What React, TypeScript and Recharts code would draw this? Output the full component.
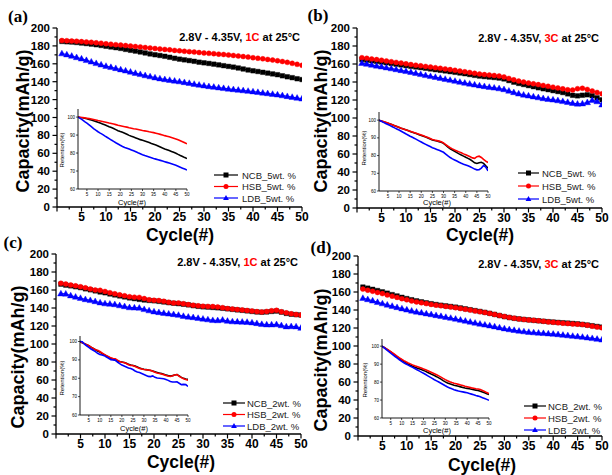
import React from 'react';
import { LineChart, Line, XAxis, YAxis } from 'recharts';

const cycles = [1,2,3,4,5,6,7,8,9,10,11,12,13,14,15,16,17,18,19,20,21,22,23,24,25,26,27,28,29,30,31,32,33,34,35,36,37,38,39,40,41,42,43,44,45,46,47,48,49,50];

// Panel (a) 5wt.% 1C
const ncbA = [185.0,184.6,184.3,183.8,183.2,182.6,182.0,181.3,180.5,179.6,178.8,178.0,177.2,176.1,175.1,174.2,173.2,172.1,171.0,170.1,169.3,168.4,167.3,166.2,165.2,164.4,163.6,162.8,161.8,161.1,160.4,159.6,158.8,157.9,157.1,156.3,155.3,154.2,153.1,152.2,151.4,150.5,149.6,148.7,147.8,146.6,145.5,144.5,143.3,142.4];
const hsbA = [186.0,185.8,185.5,185.2,184.8,184.4,184.0,183.5,183.0,182.4,181.9,181.4,180.9,180.4,179.8,179.3,178.8,178.2,177.6,177.1,176.6,176.1,175.6,175.0,174.5,174.0,173.6,173.1,172.6,172.1,171.7,171.3,170.8,170.4,169.9,169.3,168.7,168.1,167.5,166.8,166.2,165.6,164.9,164.2,163.4,162.6,161.6,160.5,159.4,158.3];
const ldbA = [171.5,170.3,168.8,167.2,165.7,164.0,162.3,160.6,159.0,157.5,156.2,155.0,153.6,152.3,151.0,149.6,148.3,147.0,145.8,144.6,143.5,142.6,141.8,141.0,140.2,139.3,138.4,137.4,136.5,135.6,134.8,134.1,133.4,132.7,132.0,131.4,130.8,130.2,129.6,129.0,128.3,127.6,126.9,126.2,125.5,124.6,123.7,122.8,121.9,121.0];

// Panel (b) 5wt.% 3C
const ncbB = [165.0,164.3,163.6,162.9,162.2,161.4,160.6,159.8,159.0,158.2,157.4,156.7,156.0,155.3,154.5,153.7,153.0,152.3,151.5,150.8,150.0,149.2,148.3,147.4,146.6,146.0,145.5,145.0,144.4,143.4,141.6,139.8,138.4,137.2,136.0,134.8,133.6,132.5,131.5,130.4,129.4,128.3,126.8,125.2,124.6,125.3,125.8,124.8,122.4,120.2];
const hsbB = [167.0,166.3,165.6,164.9,164.2,163.4,162.6,161.8,161.0,160.2,159.4,158.7,158.0,157.3,156.6,155.9,155.2,154.5,153.8,153.0,152.2,151.4,150.6,149.7,148.8,148.2,147.7,147.2,146.6,145.6,144.0,142.4,141.0,139.9,138.9,138.0,137.1,136.2,135.2,134.3,133.4,132.4,131.4,131.0,132.6,133.0,131.8,130.0,128.4,127.0];
const ldbB = [161.0,160.0,159.0,158.0,157.0,156.0,155.0,154.0,153.0,152.0,150.9,149.8,148.6,147.5,146.4,145.4,144.4,143.3,142.2,141.1,140.0,139.0,138.0,137.0,136.0,135.2,134.4,133.6,132.8,131.8,130.2,128.5,127.0,125.8,124.8,123.8,122.8,121.8,121.0,120.3,119.5,118.6,117.6,116.5,115.8,116.0,117.4,119.8,118.4,114.8];

// Panel (c) 2wt.% 1C
const ncbC = [166.5,165.4,164.6,163.6,162.6,161.3,160.2,159.0,157.8,156.9,155.6,154.5,153.4,152.3,151.2,150.4,149.6,148.9,148.4,148.0,147.4,146.7,145.9,145.3,144.8,144.2,143.5,142.6,141.9,141.3,141.0,140.6,140.2,139.7,139.1,138.5,137.9,137.4,136.8,136.2,135.6,135.3,135.6,136.2,136.6,135.4,134.0,133.1,132.6,132.2];
const hsbC = [167.5,166.6,165.6,164.6,163.6,162.4,161.2,160.0,159.6,158.4,157.0,155.8,154.6,153.6,152.6,152.0,151.8,150.5,149.2,148.6,148.3,147.5,146.4,145.6,145.6,144.8,143.8,143.0,142.5,142.0,141.8,141.6,141.2,140.4,139.4,138.8,138.3,137.9,137.3,136.6,136.0,135.6,136.2,137.0,137.4,135.8,134.6,133.6,132.8,132.2];
const ldbC = [156.0,155.8,153.8,152.4,151.0,149.6,148.6,147.4,146.0,145.0,144.6,144.0,142.8,141.8,140.6,140.4,140.2,138.6,137.2,136.0,135.2,134.4,133.6,133.0,132.2,131.0,130.2,129.6,128.8,128.0,127.2,126.4,126.2,126.8,125.6,125.0,124.8,124.6,124.4,123.8,123.0,122.0,121.6,121.6,121.8,120.6,119.4,119.6,119.4,117.8];

// Panel (d) 2wt.% 3C
const ncbD = [165.5,164.3,163.0,161.6,160.2,158.7,157.1,155.6,154.1,152.7,151.4,150.2,149.1,148.0,147.0,146.1,145.3,144.6,143.9,143.2,142.3,141.3,140.3,139.3,138.4,137.4,136.3,135.1,133.8,132.6,131.6,130.8,130.1,129.5,129.0,128.5,128.0,127.5,127.0,126.6,126.2,125.8,125.4,125.0,124.6,124.0,123.3,122.5,121.7,121.0];
const hsbD = [163.2,162.0,160.8,159.5,158.2,156.8,155.4,154.0,152.6,151.3,150.1,149.0,148.0,147.1,146.2,145.4,144.7,144.0,143.3,142.5,141.7,140.8,139.9,139.0,138.1,137.2,136.2,135.1,133.9,132.8,131.8,130.9,130.1,129.5,129.0,128.5,128.0,127.4,126.8,126.3,125.8,125.3,124.9,124.5,124.3,123.8,123.0,122.0,121.0,120.2];
const ldbD = [153.2,151.8,150.3,148.7,147.2,145.8,144.4,143.0,141.6,140.3,139.1,138.0,137.0,136.0,135.1,134.1,133.1,132.1,131.1,130.1,129.0,127.9,126.8,125.7,124.6,123.6,122.6,121.6,120.5,119.4,118.4,117.6,116.8,116.1,115.5,115.0,114.6,114.2,113.8,113.4,112.9,112.3,111.7,111.1,110.6,110.0,109.3,108.6,107.8,107.0];

const mainXTicks = [0,2.5,5,7.5,10,12.5,15,17.5,20,22.5,25,27.5,30,32.5,35,37.5,40,42.5,45,47.5,50];
const mainYTicks = [0,10,20,30,40,50,60,70,80,90,100,110,120,130,140,150,160,170,180,190,200];
const insetXTicks = [5,10,15,20,25,30,35,40,45,50];
const insetYTicks = [60,70,80,90,100];

const seriesNames = ['NCB', 'HSB', 'LDB'];
const COLORS = { ncb: '#000000', hsb: '#ff0000', ldb: '#0000ff' };
const SANS = 'Arial, "Liberation Sans", Helvetica, sans-serif';
const SERIF = '"Times New Roman", "Liberation Serif", serif';

function buildData(ncb: number[], hsb: number[], ldb: number[]) {
  return cycles.map((c, i) => ({
    cycle: c,
    ncb: ncb[i], hsb: hsb[i], ldb: ldb[i],
    rn: (ncb[i] / ncb[0]) * 100,
    rh: (hsb[i] / hsb[0]) * 100,
    rl: (ldb[i] / ldb[0]) * 100,
  }));
}

function markerPath(shape: string, cx: number, cy: number, s: number) {
  if (shape === 'square') return `M${cx - s / 2},${cy - s / 2}h${s}v${s}h${-s}Z`;
  if (shape === 'triangle') return `M${cx},${cy - s * 0.6}L${cx + s * 0.58},${cy + s * 0.42}L${cx - s * 0.58},${cy + s * 0.42}Z`;
  const r = s / 2;
  return `M${cx - r},${cy}a${r},${r} 0 1,0 ${2 * r},0a${r},${r} 0 1,0 ${-2 * r},0Z`;
}

function makeDot(shape: string, color: string, size: number) {
  return (p: any) => {
    const { cx, cy, index } = p;
    if (cx == null || cy == null) return <g key={`e${index}`} />;
    return <path key={`d${index}`} d={markerPath(shape, cx, cy, size)} fill={color} stroke={color} strokeWidth={0.4} />;
  };
}

const MainXTick = (p: any) => {
  const { x, y, payload } = p;
  const v = payload.value;
  const major = v % 5 === 0;
  return (
    <g>
      <line x1={x} x2={x} y1={y} y2={y + (major ? 4.5 : 2.5)} stroke="#000" strokeWidth={1.2} />
      {major && v > 0 && (
        <text x={x} y={y + 14} textAnchor="middle" fontFamily={SANS} fontWeight="bold" fontSize={12} fill="#000">{v}</text>
      )}
    </g>
  );
};

const MainYTick = (p: any) => {
  const { x, y, payload } = p;
  const v = payload.value;
  const major = v % 20 === 0;
  return (
    <g>
      <line x1={x - (major ? 4.5 : 2.5)} x2={x} y1={y} y2={y} stroke="#000" strokeWidth={1.2} />
      {major && (
        <text x={x - 7} y={y + 4} textAnchor="end" fontFamily={SANS} fontWeight="bold" fontSize={11.5} fill="#000">{v}</text>
      )}
    </g>
  );
};

const InsetXTick = (p: any) => {
  const { x, y, payload } = p;
  return (
    <g>
      <line x1={x} x2={x} y1={y} y2={y + 2} stroke="#000" strokeWidth={0.7} />
      <text x={x} y={y + 6.5} textAnchor="middle" fontFamily={SANS} fontSize={4.5} fill="#000">{payload.value}</text>
    </g>
  );
};

const InsetYTick = (p: any) => {
  const { x, y, payload } = p;
  return (
    <g>
      <line x1={x - 2} x2={x} y1={y} y2={y} stroke="#000" strokeWidth={0.7} />
      <text x={x - 3} y={y + 1.6} textAnchor="end" fontFamily={SANS} fontSize={4.5} fill="#000">{payload.value}</text>
    </g>
  );
};

type Rect = { l: number; t: number; r: number; b: number };

function MainChart({ rect, data }: { rect: Rect; data: any[] }) {
  const padL = 45, padT = 6, padR = 8, padB = 20;
  const w = rect.r - rect.l, h = rect.b - rect.t;
  return (
    <div style={{ position: 'absolute', left: rect.l - padL, top: rect.t - padT }}>
      <LineChart width={w + padL + padR} height={h + padT + padB} data={data} margin={{ top: padT, right: padR, bottom: 0, left: 0 }}>
        <XAxis dataKey="cycle" type="number" domain={[0, 50]} ticks={mainXTicks} interval={0} height={padB}
          axisLine={{ stroke: '#000', strokeWidth: 1.3 }} tickLine={false} tickSize={0} tickMargin={0} tick={<MainXTick />} allowDataOverflow />
        <YAxis type="number" domain={[0, 200]} ticks={mainYTicks} interval={0} width={padL}
          axisLine={{ stroke: '#000', strokeWidth: 1.3 }} tickLine={false} tickSize={0} tickMargin={0} tick={<MainYTick />} allowDataOverflow />
        <Line dataKey="ncb" stroke={COLORS.ncb} strokeWidth={1} dot={makeDot('square', COLORS.ncb, 4.6)} isAnimationActive={false} />
        <Line dataKey="hsb" stroke={COLORS.hsb} strokeWidth={1} dot={makeDot('circle', COLORS.hsb, 5)} isAnimationActive={false} />
        <Line dataKey="ldb" stroke={COLORS.ldb} strokeWidth={1} dot={makeDot('triangle', COLORS.ldb, 5.6)} isAnimationActive={false} />
      </LineChart>
    </div>
  );
}

function InsetChart({ rect, ymax, data }: { rect: Rect; ymax: number; data: any[] }) {
  const padL = 20, padT = 4, padR = 4, padB = 10;
  const w = rect.r - rect.l, h = rect.b - rect.t;
  return (
    <div style={{ position: 'absolute', left: rect.l - padL, top: rect.t - padT }}>
      <LineChart width={w + padL + padR} height={h + padT + padB} data={data} margin={{ top: padT, right: padR, bottom: 0, left: 0 }}>
        <XAxis dataKey="cycle" type="number" domain={[1, 50]} ticks={insetXTicks} interval={0} height={padB}
          axisLine={{ stroke: '#000', strokeWidth: 0.9 }} tickLine={false} tickSize={0} tickMargin={0} tick={<InsetXTick />} allowDataOverflow />
        <YAxis type="number" domain={[60, ymax]} ticks={insetYTicks} interval={0} width={padL}
          axisLine={{ stroke: '#000', strokeWidth: 0.9 }} tickLine={false} tickSize={0} tickMargin={0} tick={<InsetYTick />} allowDataOverflow />
        <Line dataKey="rn" stroke={COLORS.ncb} strokeWidth={1.6} dot={false} isAnimationActive={false} />
        <Line dataKey="rh" stroke={COLORS.hsb} strokeWidth={1.6} dot={false} isAnimationActive={false} />
        <Line dataKey="rl" stroke={COLORS.ldb} strokeWidth={1.6} dot={false} isAnimationActive={false} />
      </LineChart>
    </div>
  );
}

const panels = [
  {
    key: 'a', label: '(a)', rate: '1C', wt: '5wt. %', data: buildData(ncbA, hsbA, ldbA),
    plot: { l: 57, t: 28, r: 302, b: 207 }, inset: { l: 78, t: 109, r: 187, b: 189 }, ymax: 104.5,
    legend: { x1: 214, x2: 238, tx: 242, ys: [175, 186.5, 198] }, ann: { x: 300, y: 41 },
    ylab: { x: 23, y: 121 }, xlab: { x: 180, y: 235 }, plab: { x: 18, y: 16 }, iy: { x: 62, y: 150 }, ix: { x: 132, y: 202 },
  },
  {
    key: 'b', label: '(b)', rate: '3C', wt: '5wt. %', data: buildData(ncbB, hsbB, ldbB),
    plot: { l: 357, t: 28, r: 602, b: 208 }, inset: { l: 379, t: 112, r: 488, b: 191 }, ymax: 104.6,
    legend: { x1: 518, x2: 539, tx: 542, ys: [173, 186, 199] }, ann: { x: 599, y: 42 },
    ylab: { x: 321, y: 121 }, xlab: { x: 480, y: 235 }, plab: { x: 318, y: 15 }, iy: { x: 364, y: 148 }, ix: { x: 437, y: 202 },
  },
  {
    key: 'c', label: '(c)', rate: '1C', wt: '2wt. %', data: buildData(ncbC, hsbC, ldbC),
    plot: { l: 56, t: 254, r: 301, b: 434 }, inset: { l: 80, t: 336, r: 188, b: 415 }, ymax: 103,
    legend: { x1: 223, x2: 245, tx: 247, ys: [403, 414.5, 426] }, ann: { x: 298, y: 266 },
    ylab: { x: 18, y: 357 }, xlab: { x: 181, y: 462 }, plab: { x: 13, y: 242 }, iy: { x: 62, y: 378 }, ix: { x: 134, y: 428 },
  },
  {
    key: 'd', label: '(d)', rate: '3C', wt: '2wt. %', data: buildData(ncbD, hsbD, ldbD),
    plot: { l: 358, t: 256, r: 602, b: 436 }, inset: { l: 382, t: 339, r: 489, b: 418 }, ymax: 104,
    legend: { x1: 524, x2: 546, tx: 548, ys: [406, 418, 430] }, ann: { x: 599, y: 268 },
    ylab: { x: 321, y: 360 }, xlab: { x: 482, y: 465 }, plab: { x: 321, y: 247 }, iy: { x: 365, y: 380 }, ix: { x: 437, y: 430 },
  },
];

const legendShapes = ['square', 'circle', 'triangle'];
const legendColors = [COLORS.ncb, COLORS.hsb, COLORS.ldb];

export default function App() {
  return (
    <div style={{ position: 'absolute', left: 0, top: 0, width: 612, height: 475, background: '#fff', overflow: 'hidden' }}>
      {panels.map((p) => (
        <React.Fragment key={p.key}>
          <MainChart rect={p.plot} data={p.data} />
          <InsetChart rect={p.inset} ymax={p.ymax} data={p.data} />
        </React.Fragment>
      ))}
      <svg width={612} height={475} style={{ position: 'absolute', left: 0, top: 0, pointerEvents: 'none' }}>
        {panels.map((p) => (
          <g key={p.key}>
            <text x={p.plab.x} y={p.plab.y} textAnchor="middle" dominantBaseline="central" fontFamily={SERIF} fontWeight="bold" fontSize={17} fill="#000">{p.label}</text>
            <text x={p.ylab.x} y={p.ylab.y} textAnchor="middle" dominantBaseline="central" transform={`rotate(-90 ${p.ylab.x} ${p.ylab.y})`} fontFamily={SANS} fontWeight="bold" fontSize={18} fill="#000">Capacity(mAh/g)</text>
            <text x={p.xlab.x} y={p.xlab.y} textAnchor="middle" dominantBaseline="central" fontFamily={SANS} fontWeight="bold" fontSize={17.5} fill="#000">Cycle(#)</text>
            <text x={p.ann.x} y={p.ann.y} textAnchor="end" fontFamily={SANS} fontWeight="bold" fontSize={11} fill="#000">
              2.8V - 4.35V, <tspan fill="#ff0000">{p.rate}</tspan> at 25°C
            </text>
            <text x={p.iy.x} y={p.iy.y} textAnchor="middle" dominantBaseline="central" transform={`rotate(-90 ${p.iy.x} ${p.iy.y})`} fontFamily={SANS} fontSize={6} fill="#000">Retention(%)</text>
            <text x={p.ix.x} y={p.ix.y} textAnchor="middle" dominantBaseline="central" fontFamily={SANS} fontSize={7.5} fill="#000">Cycle(#)</text>
            {seriesNames.map((n, i) => {
              const y = p.legend.ys[i];
              const mx = (p.legend.x1 + p.legend.x2) / 2;
              return (
                <g key={n}>
                  <line x1={p.legend.x1} x2={p.legend.x2} y1={y} y2={y} stroke={legendColors[i]} strokeWidth={1.2} />
                  <path d={markerPath(legendShapes[i], mx, y, 5)} fill={legendColors[i]} />
                  <text x={p.legend.tx} y={y} dominantBaseline="central" fontFamily={SANS} fontSize={9.5} fill="#222">{`${n}_${p.wt}`}</text>
                </g>
              );
            })}
          </g>
        ))}
      </svg>
    </div>
  );
}
